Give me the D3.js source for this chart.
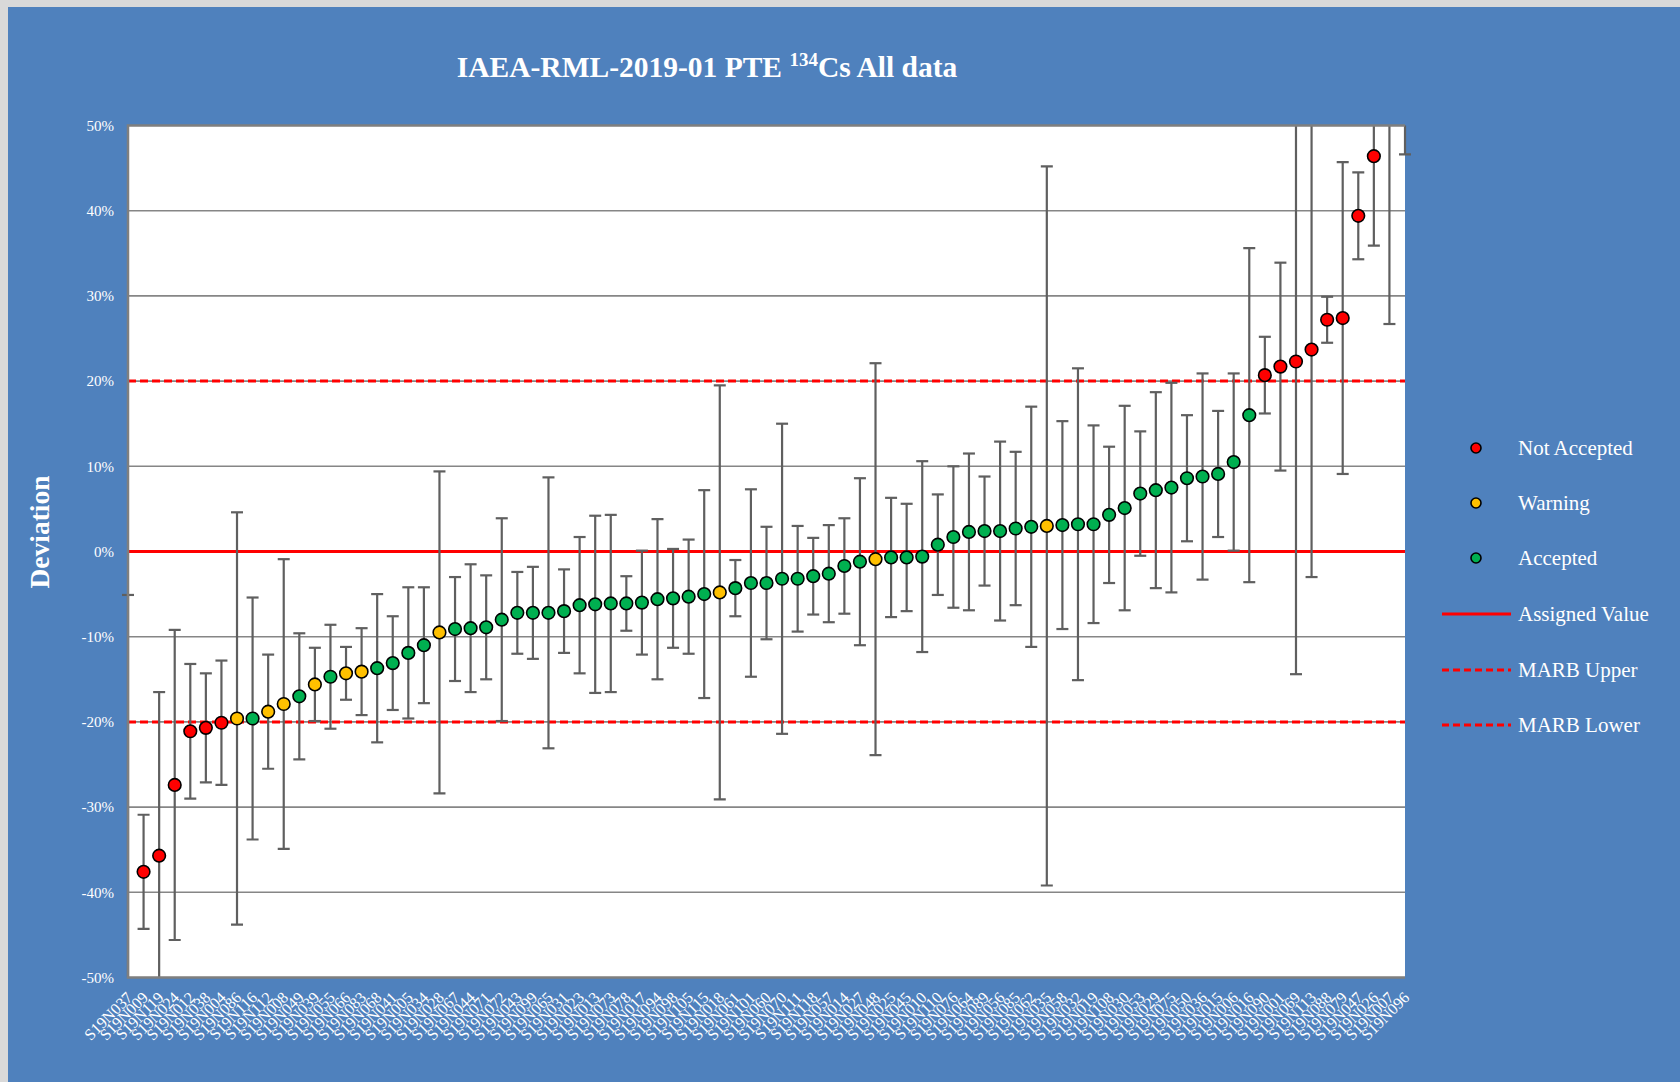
<!DOCTYPE html>
<html>
<head>
<meta charset="utf-8">
<script src="https://cdn.jsdelivr.net/npm/d3@7"></script>
<style>
  html, body { margin: 0; padding: 0; background: #ffffff; }
  svg { display: block; }
  text { font-family: "Liberation Serif", "Times New Roman", serif; }
</style>
</head>
<body>
<svg id="chart" width="1680" height="1082"></svg>
<script>
// Laboratory codes, sorted by relative deviation
const labs = [
  "S19N037","S19N009","S19N119","S19N024","S19N012","S19N038","S19N004","S19N086","S19N116","S19N112",
  "S19N008","S19N049","S19N039","S19N055","S19N066","S19N083","S19N068","S19N041","S19N005","S19N034",
  "S19N028","S19N067","S19N044","S19N071","S19N072","S19N043","S19N099","S19N065","S19N031","S19N023",
  "S19N013","S19N073","S19N078","S19N017","S19N094","S19N098","S19N105","S19N115","S19N018","S19N061",
  "S19N101","S19N060","S19N070","S19N111","S19N118","S19N057","S19N014","S19N027","S19N048","S19N025",
  "S19N045","S19N010","S19N110","S19N076","S19N064","S19N089","S19N056","S19N085","S19N062","S19N035",
  "S19N058","S19N032","S19N019","S19N108","S19N030","S19N053","S19N029","S19N075","S19N050","S19N036",
  "S19N015","S19N006","S19N016","S19N090","S19N001","S19N069","S19N113","S19N088","S19N079","S19N047",
  "S19N026","S19N007","S19N096"
];

// Relative deviation from the assigned value (%)
const deviation = [
  -60.0,-37.6,-35.7,-27.4,-21.1,-20.7,-20.1,-19.6,-19.6,-18.8,
  -17.9,-17.0,-15.6,-14.7,-14.3,-14.1,-13.7,-13.1,-11.9,-11.0,
   -9.5, -9.1, -9.0, -8.9, -8.0, -7.2, -7.2, -7.2, -7.0, -6.3,
   -6.2, -6.1, -6.1, -6.0, -5.6, -5.5, -5.3, -5.0, -4.8, -4.3,
   -3.7, -3.7, -3.2, -3.2, -2.9, -2.6, -1.7, -1.2, -0.9, -0.7,
   -0.7, -0.6,  0.8,  1.7,  2.3,  2.4,  2.4,  2.7,  2.9,  3.0,
    3.1,  3.2,  3.2,  4.3,  5.1,  6.8,  7.2,  7.5,  8.6,  8.8,
    9.1, 10.5, 16.0, 20.7, 21.7, 22.3, 23.7, 27.2, 27.4, 39.4,
   46.4, 62.0, 85.0
];

// Expanded uncertainty of each deviation (%)
const uncertainty = [
  54.9, 6.7,19.2,18.2, 7.9, 6.4, 7.3,24.2,14.2, 6.7,
  17.0, 7.4, 4.3, 6.1, 3.1, 5.1, 8.7, 5.5, 7.7, 6.8,
  18.9, 6.1, 7.5, 6.1,11.9, 4.8, 5.4,15.9, 4.9, 8.0,
  10.4,10.4, 3.2, 6.1, 9.4, 5.8, 6.7,12.2,24.3, 3.3,
  11.0, 6.6,18.2, 6.2, 4.5, 5.7, 5.6, 9.8,23.0, 7.0,
   6.3,11.2, 5.9, 8.3, 9.2, 6.4,10.5, 9.0,14.1,42.2,
  12.2,18.3,11.6, 8.0,12.0, 7.3,11.5,12.3, 7.4,12.1,
   7.4,10.4,19.6, 4.5,12.2,36.7,26.7, 2.7,18.3, 5.1,
  10.5,35.3,38.4
];

// Evaluation result: N = Not Accepted, W = Warning, A = Accepted
const status = [
  "N","N","N","N","N","N","N","W","A","W",
  "W","A","W","A","W","W","A","A","A","A",
  "W","A","A","A","A","A","A","A","A","A",
  "A","A","A","A","A","A","A","A","W","A",
  "A","A","A","A","A","A","A","A","W","A",
  "A","A","A","A","A","A","A","A","A","W",
  "A","A","A","A","A","A","A","A","A","A",
  "A","A","A","N","N","N","N","N","N","N",
  "N","N","N"
];

const yTicks = [-50,-40,-30,-20,-10,0,10,20,30,40,50];
const assignedValue = 0;
const marbLimits = [20, -20];
const legendItems = ["Not Accepted","Warning","Accepted","Assigned Value","MARB Upper","MARB Lower"];
const statusColor = { N: "#ff0000", W: "#ffc000", A: "#00b050" };

const svg = d3.select("#chart");
const W = 1680, H = 1082;
const plot = { left: 128, right: 1405, top: 125.5, bottom: 977.5 };

// chart background
svg.append("rect").attr("x", 0).attr("y", 0).attr("width", W).attr("height", H).attr("fill", "#d9d9d9");
svg.append("rect").attr("x", 8).attr("y", 7).attr("width", W - 8).attr("height", H - 7).attr("fill", "#4f81bd");

const x = d3.scalePoint().domain(labs).range([plot.left, plot.right]).padding(0);
const y = d3.scaleLinear().domain([-50, 50]).range([plot.bottom, plot.top]);

// plot area
svg.append("rect")
  .attr("x", plot.left).attr("y", plot.top)
  .attr("width", plot.right - plot.left).attr("height", plot.bottom - plot.top)
  .attr("fill", "#ffffff");

const defs = svg.append("defs");
defs.append("clipPath").attr("id", "plotClip")
  .append("rect")
  .attr("x", plot.left - 8).attr("y", plot.top)
  .attr("width", plot.right - plot.left + 16).attr("height", plot.bottom - plot.top);
defs.append("clipPath").attr("id", "ptClip")
  .append("rect")
  .attr("x", plot.left - 10).attr("y", plot.top - 8)
  .attr("width", plot.right - plot.left + 20).attr("height", plot.bottom - plot.top + 16);

// horizontal gridlines
svg.append("g").selectAll("line")
  .data(yTicks.filter(t => t > -50 && t < 50))
  .join("line")
  .attr("x1", plot.left).attr("x2", plot.right)
  .attr("y1", d => y(d)).attr("y2", d => y(d))
  .attr("stroke", "#868686").attr("stroke-width", 1.6);

// y axis labels
const yAxis = d3.axisLeft(y).tickValues(yTicks).tickSize(0).tickPadding(0)
  .tickFormat(d => `${d}%`);
const gy = svg.append("g").attr("transform", `translate(${plot.left - 14},0)`).call(yAxis);
gy.select(".domain").remove();
gy.selectAll("text").attr("fill", "#ffffff").attr("font-size", 15)
  .attr("font-family", "Liberation Serif, serif");

// x axis labels
const xAxis = d3.axisBottom(x).tickSize(0).tickPadding(0);
const gx = svg.append("g").attr("transform", `translate(0,${plot.bottom})`).call(xAxis);
gx.select(".domain").remove();
gx.selectAll("text")
  .attr("fill", "#ffffff").attr("font-size", 16)
  .attr("font-family", "Liberation Serif, serif")
  .attr("text-anchor", "end")
  .attr("dy", 0)
  .attr("transform", "translate(5,21) rotate(-45)");

// reference lines
svg.append("line")
  .attr("x1", plot.left).attr("x2", plot.right)
  .attr("y1", y(assignedValue)).attr("y2", y(assignedValue))
  .attr("stroke", "#ff0000").attr("stroke-width", 2.8);
svg.append("g").selectAll("line").data(marbLimits).join("line")
  .attr("x1", plot.left).attr("x2", plot.right)
  .attr("y1", d => y(d)).attr("y2", d => y(d))
  .attr("stroke", "#ff0000").attr("stroke-width", 3)
  .attr("stroke-dasharray", "8,4");

// error bars and points
const rows = labs.map((lab, i) => ({ lab, v: deviation[i], u: uncertainty[i], s: status[i] }));
const gData = svg.append("g").attr("clip-path", "url(#plotClip)");
const bars = gData.append("g").selectAll("g").data(rows).join("g")
  .attr("stroke", "#5f5f5f").attr("stroke-width", 2.2);
bars.append("line")
  .attr("x1", d => x(d.lab)).attr("x2", d => x(d.lab))
  .attr("y1", d => y(d.v + d.u)).attr("y2", d => y(d.v - d.u));
bars.append("line")
  .attr("x1", d => x(d.lab) - 6).attr("x2", d => x(d.lab) + 6)
  .attr("y1", d => y(d.v + d.u)).attr("y2", d => y(d.v + d.u));
bars.append("line")
  .attr("x1", d => x(d.lab) - 6).attr("x2", d => x(d.lab) + 6)
  .attr("y1", d => y(d.v - d.u)).attr("y2", d => y(d.v - d.u));

const gPts = svg.append("g").attr("clip-path", "url(#ptClip)");
gPts.selectAll("circle").data(rows.filter(d => d.v >= -50 && d.v <= 50)).join("circle")
  .attr("cx", d => x(d.lab)).attr("cy", d => y(d.v))
  .attr("r", 6.3)
  .attr("fill", d => statusColor[d.s])
  .attr("stroke", "#000000").attr("stroke-width", 1.6);

// plot frame (top, left, bottom)
svg.append("path")
  .attr("d", `M${plot.right},${plot.top}H${plot.left}V${plot.bottom}H${plot.right}`)
  .attr("fill", "none").attr("stroke", "#7f7f7f").attr("stroke-width", 2.5);

// title
const title = svg.append("text")
  .attr("x", 707).attr("y", 77)
  .attr("text-anchor", "middle")
  .attr("fill", "#ffffff").attr("font-size", 29.5).attr("font-weight", "bold");
title.append("tspan").text("IAEA-RML-2019-01 PTE ");
title.append("tspan").attr("font-size", 19).attr("dy", -11).text("134");
title.append("tspan").attr("dy", 11).text("Cs All data");

// y axis title
svg.append("text")
  .attr("transform", "translate(49,532) rotate(-90)")
  .attr("text-anchor", "middle")
  .attr("fill", "#ffffff").attr("font-size", 27.5).attr("font-weight", "bold")
  .text("Deviation");

// legend
const legendY = [448, 503, 558, 614, 670, 725];
const lg = svg.append("g");
legendItems.forEach((name, i) => {
  const cy = legendY[i];
  if (i < 3) {
    lg.append("circle").attr("cx", 1476).attr("cy", cy).attr("r", 5)
      .attr("fill", statusColor[["N", "W", "A"][i]])
      .attr("stroke", "#000000").attr("stroke-width", 1.6);
  } else {
    lg.append("line").attr("x1", 1442).attr("x2", 1511).attr("y1", cy).attr("y2", cy)
      .attr("stroke", "#ff0000").attr("stroke-width", 3)
      .attr("stroke-dasharray", i === 3 ? null : "7,4");
  }
  lg.append("text").attr("x", 1518).attr("y", cy + 7)
    .attr("fill", "#ffffff").attr("font-size", 21).text(name);
});
</script>
</body>
</html>
